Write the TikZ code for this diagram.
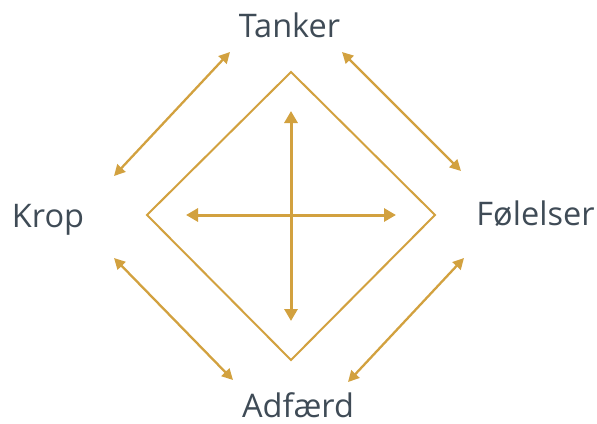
\documentclass[tikz,border=0pt]{standalone}
\usepackage{fontspec}
\setmainfont{Open Sans}
\usetikzlibrary{arrows.meta}
\definecolor{gold}{HTML}{D2A13F}
\definecolor{slate}{HTML}{3F4B56}

\begin{document}
\begin{tikzpicture}[x=1pt,y=-1pt,
 label/.style={text=slate,anchor=base,inner sep=0pt,font=\fontsize{32.5}{38}\selectfont},
 link/.style={draw=gold,line width=2.3pt,{Triangle[length=11pt,width=11pt]}-{Triangle[length=11pt,width=11pt]}},
 axis/.style={draw=gold,line width=3pt,{Triangle[length=12pt,width=13pt]}-{Triangle[length=12pt,width=13pt]}}]
\useasboundingbox (0,0) rectangle (597,423);
\node[label] (tanker) at (289.5,37) {Tanker};
\node[label] (krop) at (48,227) {Krop};
\node[label] (folelser) at (535.5,225) {Følelser};
\node[label] (adfaerd) at (298,417) {Adfærd};
% diamond
\coordinate (dtop) at (291,72);
\coordinate (dright) at (435,215);
\coordinate (dbottom) at (291,360);
\coordinate (dleft) at (147,215);
\draw[gold,line width=2pt] (dtop) -- (dright) -- (dbottom) -- (dleft) -- cycle;
% cross
\coordinate (up) at (291,111);
\coordinate (down) at (291,321);
\coordinate (west) at (186,215);
\coordinate (east) at (396,215);
\draw[axis] (up) -- (down);
\draw[axis] (west) -- (east);
% links between the four
\coordinate (tl1) at (230,52);
\coordinate (tl2) at (114,176);
\coordinate (tr1) at (342,52);
\coordinate (tr2) at (461,171);
\coordinate (br1) at (464,258);
\coordinate (br2) at (348,382);
\coordinate (bl1) at (114,258);
\coordinate (bl2) at (233,380);
\draw[link] (tl1) -- (tl2);
\draw[link] (tr1) -- (tr2);
\draw[link] (br1) -- (br2);
\draw[link] (bl1) -- (bl2);
\end{tikzpicture}
\end{document}
